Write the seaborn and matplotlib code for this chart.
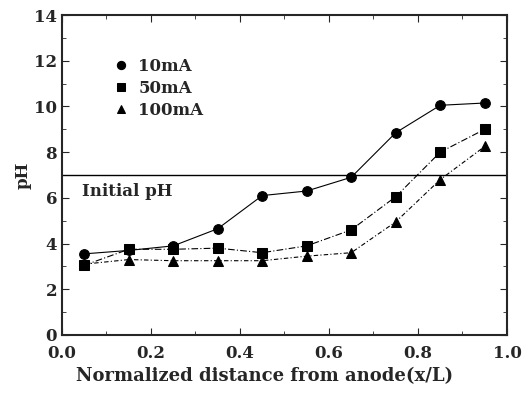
import numpy as np
import pandas as pd
import matplotlib
matplotlib.use("Agg")
import matplotlib.pyplot as plt
import seaborn as sns
from matplotlib.ticker import MultipleLocator, FormatStrFormatter

# data
x_pos = [0.05, 0.15, 0.25, 0.35, 0.45, 0.55, 0.65, 0.75, 0.85, 0.95]
ph_10mA = [3.55, 3.7, 3.9, 4.65, 6.1, 6.3, 6.9, 8.85, 10.05, 10.15]
ph_50mA = [3.05, 3.75, 3.75, 3.8, 3.6, 3.9, 4.6, 6.05, 8.0, 9.0]
ph_100mA = [3.1, 3.3, 3.25, 3.25, 3.25, 3.45, 3.6, 4.95, 6.8, 8.25]
labels = ["10mA", "50mA", "100mA"]
initial_ph = 7.0

df = pd.DataFrame({
    "x": x_pos * 3,
    "pH": ph_10mA + ph_50mA + ph_100mA,
    "current": [labels[0]] * 10 + [labels[1]] * 10 + [labels[2]] * 10,
})

sns.set_style("ticks")
plt.rcParams["font.family"] = ["DejaVu Serif"]
plt.rcParams["font.weight"] = "bold"
plt.rcParams["axes.labelweight"] = "bold"

fig = plt.figure(figsize=(5.28, 3.93), dpi=100)
ax = fig.add_axes([0.1174, 0.1476, 0.8428, 0.8142])

sns.lineplot(data=df, x="x", y="pH", hue="current", style="current",
             palette=["black"] * 3, markers={"10mA": "o", "50mA": "s", "100mA": "^"},
             dashes={"10mA": "", "50mA": (6, 2, 1, 2), "100mA": (4, 2, 1, 2)},
             markersize=7, linewidth=0.8, markeredgecolor="black", ax=ax)

ax.axhline(initial_ph, color="black", linewidth=1.0)
ax.text(0.044, 6.3, "Initial pH", fontsize=12, ha="left", va="center")

ax.set_xlim(0, 1.0)
ax.set_ylim(0, 14)
ax.xaxis.set_major_locator(MultipleLocator(0.2))
ax.xaxis.set_minor_locator(MultipleLocator(0.1))
ax.yaxis.set_major_locator(MultipleLocator(2))
ax.yaxis.set_minor_locator(MultipleLocator(1))
ax.tick_params(which="both", direction="in", top=True, right=True, labelsize=12)
ax.tick_params(which="major", length=5)
ax.tick_params(which="minor", length=3)
ax.tick_params(axis="x", pad=7)
ax.xaxis.set_major_formatter(FormatStrFormatter("%.1f"))
for s in ax.spines.values():
    s.set_linewidth(1.5)

ax.set_xlabel("Normalized distance from anode(x/L)", fontsize=13, fontweight="bold")
ax.xaxis.set_label_coords(0.456, -0.1)
ax.set_ylabel("pH", fontsize=12, fontweight="bold", labelpad=2)

leg = ax.legend(loc="upper left", bbox_to_anchor=(0.115, 0.865), frameon=False,
                fontsize=12, handlelength=1.0, handletextpad=0.5,
                labelspacing=0.3, borderaxespad=0, borderpad=0, markerscale=0.85)
for h in leg.legend_handles:
    h.set_linestyle("")

fig.savefig("out.png", dpi=100)
